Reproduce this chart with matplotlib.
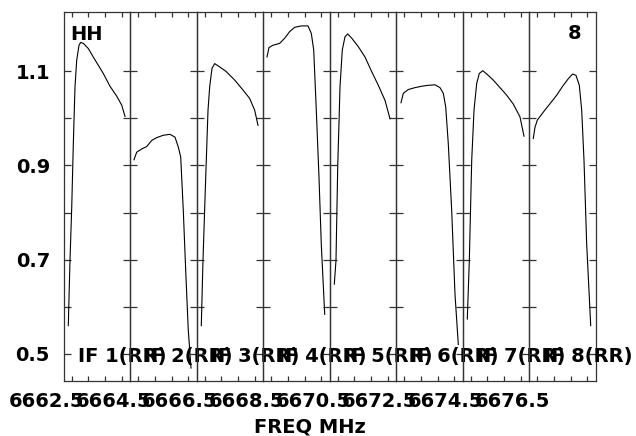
import matplotlib
matplotlib.use("Agg")
import matplotlib.pyplot as plt
import matplotlib.transforms as mtransforms

# ---- data ----
if_names = ["IF 1(RR)", "IF 2(RR)", "IF 3(RR)", "IF 4(RR)",
            "IF 5(RR)", "IF 6(RR)", "IF 7(RR)", "IF 8(RR)"]
if_start_mhz = [6663.0, 6665.0, 6667.0, 6669.0, 6671.0, 6673.0, 6675.0, 6677.0]
if_width_mhz = 2.0

# frequency offset within each IF (MHz) and amplitude
if1_off = [0.144, 0.195, 0.247, 0.295, 0.346, 0.397, 0.466, 0.517, 0.595, 0.746, 0.896, 1.197, 1.398, 1.600, 1.750, 1.850]
if1_amp = [0.560, 0.698, 0.810, 0.945, 1.067, 1.123, 1.155, 1.161, 1.159, 1.148, 1.130, 1.095, 1.068, 1.047, 1.028, 1.004]
if2_off = [0.120, 0.201, 0.352, 0.502, 0.653, 0.803, 1.002, 1.203, 1.353, 1.453, 1.525, 1.603, 1.684, 1.753, 1.835]
if2_amp = [0.912, 0.928, 0.935, 0.940, 0.953, 0.959, 0.964, 0.966, 0.960, 0.939, 0.918, 0.804, 0.662, 0.550, 0.470]
if3_off = [0.144, 0.195, 0.277, 0.346, 0.397, 0.466, 0.547, 0.698, 0.896, 1.149, 1.398, 1.600, 1.750, 1.850]
if3_amp = [0.560, 0.698, 0.875, 1.017, 1.067, 1.106, 1.116, 1.109, 1.099, 1.081, 1.060, 1.042, 1.017, 0.985]
if4_off = [0.120, 0.180, 0.301, 0.502, 0.653, 0.803, 0.953, 1.152, 1.353, 1.453, 1.525, 1.603, 1.684, 1.753, 1.856]
if4_amp = [1.130, 1.150, 1.155, 1.159, 1.170, 1.184, 1.193, 1.196, 1.196, 1.180, 1.145, 1.017, 0.875, 0.733, 0.584]
if5_off = [0.144, 0.195, 0.247, 0.316, 0.385, 0.466, 0.547, 0.668, 0.866, 1.068, 1.269, 1.468, 1.669, 1.820]
if5_amp = [0.648, 0.698, 0.896, 1.067, 1.145, 1.173, 1.179, 1.170, 1.152, 1.130, 1.099, 1.070, 1.038, 0.999]
if6_off = [0.150, 0.220, 0.370, 0.571, 0.773, 0.971, 1.173, 1.323, 1.423, 1.495, 1.573, 1.675, 1.774, 1.874]
if6_amp = [1.033, 1.053, 1.061, 1.065, 1.068, 1.070, 1.071, 1.065, 1.053, 1.024, 0.946, 0.804, 0.627, 0.520]
if7_off = [0.144, 0.205, 0.277, 0.346, 0.427, 0.505, 0.608, 0.728, 0.926, 1.128, 1.329, 1.528, 1.729, 1.850]
if7_amp = [0.574, 0.698, 0.911, 1.017, 1.074, 1.095, 1.101, 1.094, 1.081, 1.065, 1.049, 1.030, 1.003, 0.962]
if8_off = [0.129, 0.180, 0.250, 0.430, 0.632, 0.833, 1.032, 1.182, 1.314, 1.414, 1.513, 1.585, 1.654, 1.735, 1.856]
if8_amp = [0.957, 0.981, 0.996, 1.013, 1.031, 1.049, 1.070, 1.084, 1.094, 1.091, 1.070, 1.017, 0.911, 0.733, 0.560]

offsets = [if1_off, if2_off, if3_off, if4_off, if5_off, if6_off, if7_off, if8_off]
amps = [if1_amp, if2_amp, if3_amp, if4_amp, if5_amp, if6_amp, if7_amp, if8_amp]

xtick_labels = ["6662.5", "6664.5", "6666.5", "6668.5", "6670.5", "6672.5", "6674.5", "6676.5"]
xtick_values = [6662.5, 6664.5, 6666.5, 6668.5, 6670.5, 6672.5, 6674.5, 6676.5]
ytick_major = [0.5, 0.7, 0.9, 1.1]
ytick_labels = ["0.5", "0.7", "0.9", "1.1"]
ytick_minor = [0.6, 0.8, 1.0]
y_limits = (0.4426, 1.2255)
x_minor_offsets = [0.25, 0.75, 1.25, 1.75]
corner_left = "HH"
corner_right = "8"
x_title = "FREQ MHz"

# ---- figure ----
W, H = 636, 436
fig = plt.figure(figsize=(W / 100, H / 100), dpi=100)
FONT = "DejaVu Sans"
FS = 14
plt.rcParams["font.family"] = [FONT]
plt.rcParams["font.weight"] = "bold"

left, right, top, bottom = 63.5 / W, 595.5 / W, 1 - 12 / H, 1 - 381 / H
axes = fig.subplots(1, 8, sharey=True,
                    gridspec_kw=dict(wspace=0, left=left, right=right, top=top, bottom=bottom))

px = 72 / 100  # points per pixel
for k, ax in enumerate(axes):
    x0 = if_start_mhz[k]
    ax.patch.set_visible(False)
    xs = [x0 + o for o in offsets[k]]
    ax.plot(xs, amps[k], color="black", lw=0.8, solid_joinstyle="round")
    ax.set_xlim(x0, x0 + if_width_mhz)
    ax.set_ylim(*y_limits)
    ax.set_xticks([])
    ax.set_xticks([x0 + o for o in x_minor_offsets], minor=True)
    ax.set_yticks(ytick_major)
    ax.set_yticks(ytick_minor, minor=True)
    ax.tick_params(axis="x", which="minor", direction="in", length=5 * px, width=0.9,
                   top=True, bottom=True, color="#333333")
    ax.tick_params(axis="y", which="both", direction="in", length=7 * px, width=0.9,
                   left=True, right=True, color="#333333")
    if k == 0:
        ax.set_yticklabels(ytick_labels)
        ax.tick_params(axis="y", which="major", labelleft=True, pad=13.5 * px,
                       labelsize=FS)
        for t in ax.get_yticklabels():
            t.set_fontweight("bold")
    else:
        ax.tick_params(axis="y", which="both", labelleft=False)
    for sp in ax.spines.values():
        sp.set_color("#333333")
        sp.set_linewidth(0.9)

    trans = mtransforms.blended_transform_factory(ax.transData, ax.transAxes)
    # IF label
    ax.text(x0 + 14.5 / 33.25, 19 / 369, if_names[k], transform=trans,
            ha="left", va="baseline", fontsize=FS, fontweight="bold",
            clip_on=False, zorder=5)
    # frequency tick label
    ax.text(xtick_values[k], -26 / 369, xtick_labels[k], transform=trans,
            ha="center", va="baseline", fontsize=FS, fontweight="bold",
            clip_on=False, zorder=5)

axes[0].text(6.5 / 66.5, (381 - 40) / 369, corner_left, transform=axes[0].transAxes,
             ha="left", va="baseline", fontsize=FS, fontweight="bold")
axes[7].text(52 / 66.5, (381 - 39) / 369, corner_right, transform=axes[7].transAxes,
             ha="right", va="baseline", fontsize=FS, fontweight="bold")

fig.text(310 / W, 1 - 432 / H, x_title, ha="center", va="baseline",
         fontsize=FS, fontweight="bold")

fig.savefig("out.png", dpi=100, facecolor="white")
